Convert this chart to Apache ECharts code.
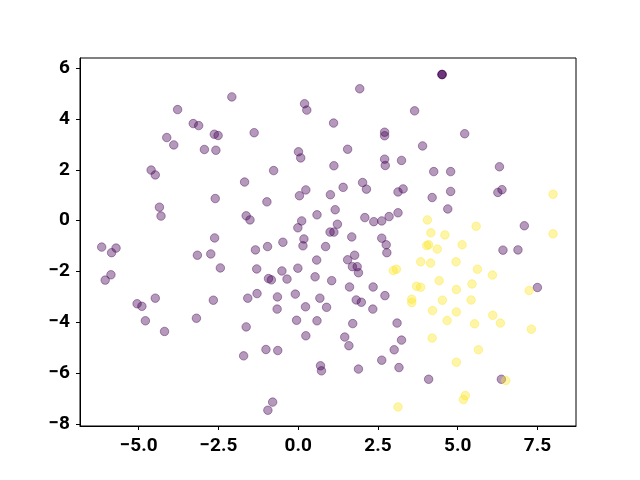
<!DOCTYPE html>
<html>
<head>
<meta charset="utf-8">
<script src="https://cdn.jsdelivr.net/npm/echarts@6/dist/echarts.min.js"></script>
<style>
  html, body { margin: 0; padding: 0; background: #fff; }
  #chart { width: 640px; height: 480px; }
</style>
</head>
<body>
<div id="chart"></div>
<script>
// group 0 (purple) points
const purpleX = [-2.08,-3.78,-3.29,-3.12,-2.63,-2.51,-4.12,-3.90,-2.94,-2.58,-4.61,-4.48,-1.68,1.93,0.20,0.27,1.11,-1.38,2.71,2.71,
  3.65,1.55,0.01,0.08,1.12,2.71,2.73,3.24,-0.77,1.41,2.02,4.51,4.51,4.51,5.22,3.90,4.25,4.78,6.31,-2.60,
  -4.35,-4.30,-1.63,-1.51,-2.62,-6.16,-5.71,-5.85,-3.16,-2.74,-2.44,-5.87,-6.05,-4.48,-5.05,-4.90,-2.66,-1.58,-4.79,-3.19,
  -4.19,-1.63,-1.71,2.14,0.24,0.04,1.01,3.13,3.29,-0.98,0.59,1.16,2.09,2.37,2.62,2.85,3.13,0.11,-0.01,1.23,
  1.00,1.12,-0.48,0.18,0.15,1.68,0.86,-0.96,-1.34,2.62,2.76,2.78,0.58,1.77,1.55,1.70,1.85,1.89,-0.01,-0.51,
  -1.30,-0.93,-0.84,-0.35,0.53,1.05,1.61,2.35,-1.29,-0.65,-0.09,0.68,1.82,1.98,2.72,0.23,0.89,-0.66,2.34,4.20,
  4.78,6.26,6.39,4.69,7.09,6.42,6.89,7.50,-0.05,0.59,1.71,3.10,0.24,1.46,1.59,3.24,3.01,-1.01,-0.64,2.62,
  0.70,0.73,1.89,3.16,-0.80,-0.95,4.09,6.37];
const purpleY = [4.87,4.37,3.82,3.74,3.40,3.35,3.27,2.98,2.80,2.77,1.99,1.80,1.52,5.19,4.60,4.35,3.84,3.46,3.48,3.34,
  4.32,2.81,2.71,2.47,2.16,2.42,2.17,2.37,1.97,1.31,1.50,5.75,5.75,5.75,3.42,2.94,1.93,1.93,2.12,0.87,
  0.53,0.18,0.19,0.03,-0.68,-1.04,-1.08,-1.26,-1.36,-1.31,-1.86,-2.13,-2.34,-3.05,-3.27,-3.37,-3.13,-3.05,-3.94,-3.84,
  -4.36,-4.18,-5.32,1.24,1.21,0.98,1.02,1.13,1.25,0.74,0.23,0.43,0.12,-0.04,-0.01,0.16,0.31,-0.01,-0.28,-0.14,
  -0.45,-0.45,-0.85,-0.72,-0.99,-0.64,-1.02,-1.02,-1.15,-0.69,-0.95,-1.26,-1.55,-1.36,-1.54,-1.81,-1.81,-2.05,-1.87,-1.98,
  -1.90,-2.28,-2.33,-2.30,-2.21,-2.36,-2.61,-2.61,-2.87,-3.00,-2.89,-3.05,-3.12,-3.21,-2.95,-3.39,-3.41,-3.48,-3.48,0.91,
  1.15,1.11,1.22,0.46,-0.20,-1.16,-1.15,-2.63,-3.92,-3.94,-4.05,-4.03,-4.53,-4.58,-4.92,-4.70,-5.08,-5.07,-5.11,-5.49,
  -5.71,-5.91,-5.84,-5.78,-7.14,-7.46,-6.24,-6.24];

// group 1 (yellow) points
const yellowX = [3.08,2.98,3.71,3.84,3.56,3.56,7.99,4.05,5.58,4.16,4.60,7.99,4.03,4.09,4.36,5.14,3.84,4.15,4.95,5.62,
  6.09,4.42,5.45,4.96,7.24,4.52,5.42,4.21,4.96,4.67,5.53,6.10,6.34,7.31,4.20,5.65,4.96,6.51,5.24,5.18,3.13];
const yellowY = [-1.91,-1.96,-2.58,-2.62,-3.09,-3.22,1.04,0.03,-0.22,-0.48,-0.56,-0.52,-0.98,-0.95,-1.12,-0.95,-1.62,-1.67,-1.62,-1.91,
  -2.14,-2.36,-2.49,-2.71,-2.75,-3.13,-3.12,-3.54,-3.59,-3.93,-4.06,-3.72,-4.03,-4.27,-4.62,-5.08,-5.57,-6.29,-6.88,-7.04,-7.33];

const xTicks = [-5, -2.5, 0, 2.5, 5, 7.5];
const yTicks = [-8, -6, -4, -2, 0, 2, 4, 6];

const zip = (a, b) => a.map((v, i) => [v, b[i]]);
const minus = s => String(s).replace('-', '\u2212');

const labelStyle = {
  color: '#000',
  fontFamily: 'Roboto',
  fontWeight: 'bold',
  fontSize: 19
};

const option = {
  animation: false,
  backgroundColor: '#fff',
  grid: {
    left: 80, right: 64, top: 58, bottom: 54,
    show: true,
    borderColor: '#000',
    borderWidth: 1
  },
  xAxis: {
    type: 'value',
    min: -6.84,
    max: 8.71,
    splitLine: { show: false },
    axisLine: { onZero: false, lineStyle: { color: '#000', width: 1 } },
    axisTick: { show: true, inside: false, length: 4, customValues: xTicks, lineStyle: { color: '#000' } },
    axisLabel: Object.assign({
      margin: 11,
      customValues: xTicks,
      formatter: v => minus(v.toFixed(1))
    }, labelStyle)
  },
  yAxis: {
    type: 'value',
    min: -8.08,
    max: 6.40,
    splitLine: { show: false },
    axisLine: { show: true, onZero: false, lineStyle: { color: '#000', width: 1 } },
    axisTick: { show: true, inside: false, length: 4, customValues: yTicks, lineStyle: { color: '#000' } },
    axisLabel: Object.assign({
      margin: 10,
      customValues: yTicks,
      formatter: v => minus(v.toFixed(0))
    }, labelStyle)
  },
  series: [
    {
      type: 'scatter',
      symbol: 'circle',
      symbolSize: 8.5,
      silent: true,
      itemStyle: {
        color: 'rgba(68,1,84,0.4)',
        borderColor: 'rgba(68,1,84,0.4)',
        borderWidth: 1,
        opacity: 1
      },
      data: zip(purpleX, purpleY)
    },
    {
      type: 'scatter',
      symbol: 'circle',
      symbolSize: 8.5,
      silent: true,
      itemStyle: {
        color: 'rgba(253,231,37,0.4)',
        borderColor: 'rgba(253,231,37,0.4)',
        borderWidth: 1,
        opacity: 1
      },
      data: zip(yellowX, yellowY)
    }
  ]
};

const chart = echarts.init(document.getElementById('chart'), null, { renderer: 'canvas' });
chart.setOption(option);
</script>
</body>
</html>
